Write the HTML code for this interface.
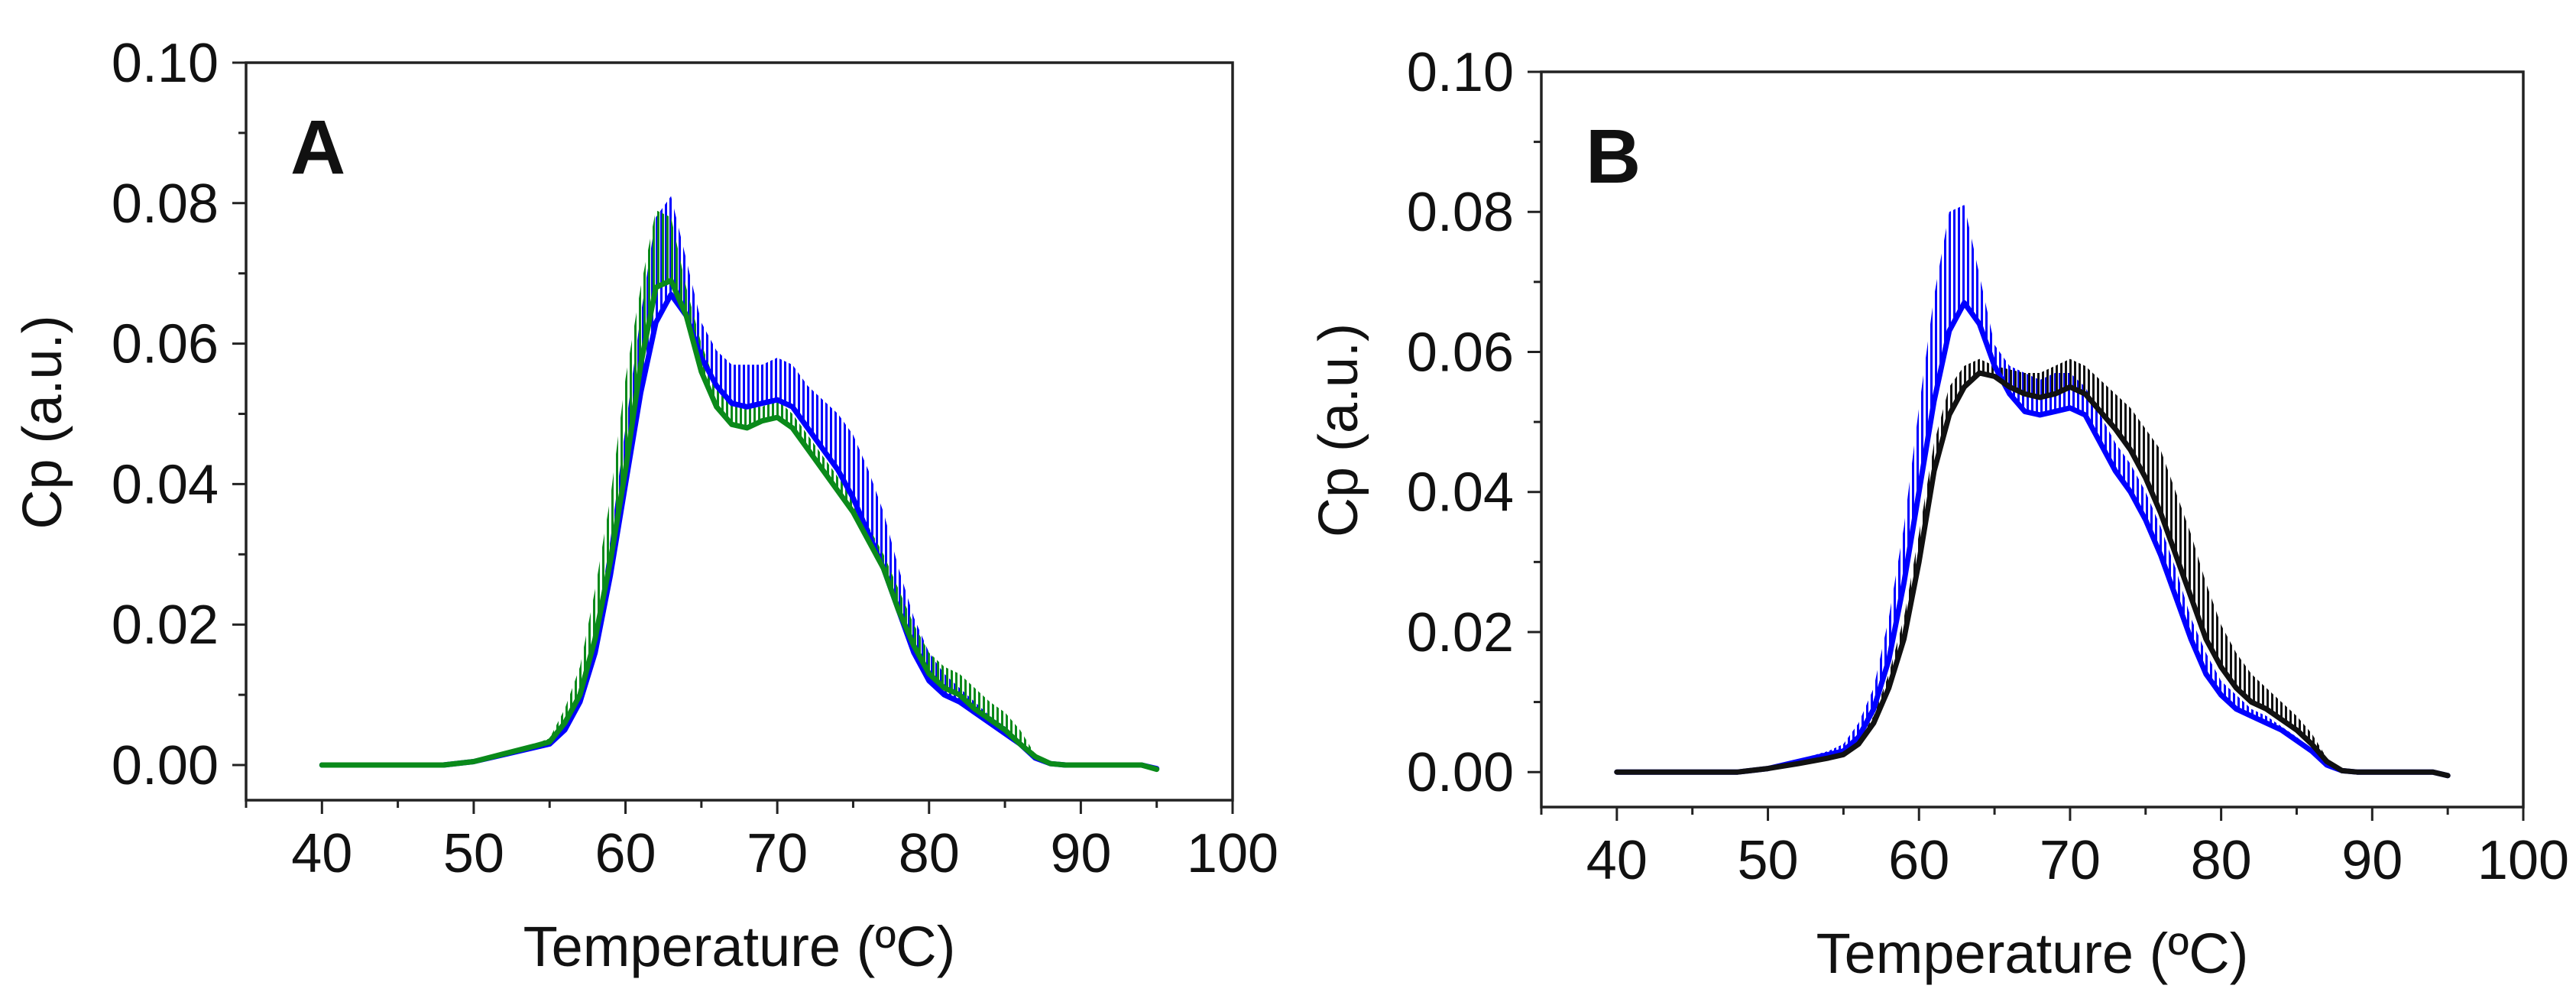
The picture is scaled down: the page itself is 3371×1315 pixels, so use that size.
<!DOCTYPE html>
<html><head><meta charset="utf-8"><style>
html,body{margin:0;padding:0;background:#fff;}
svg text{font-family:"Liberation Sans",Arial,sans-serif;fill:#111;}
</style></head><body>
<svg id="fig" width="3371" height="1310" viewBox="0 0 3371 1310" xmlns="http://www.w3.org/2000/svg">
<defs>
<pattern id="hatchBlue" patternUnits="userSpaceOnUse" width="6" height="10"><rect x="0" y="0" width="3" height="10" fill="#0000ff"/></pattern>
<pattern id="hatchGreen" patternUnits="userSpaceOnUse" width="6" height="10"><rect x="2" y="0" width="3" height="10" fill="#0a8a1a"/></pattern>
<pattern id="hatchBlack" patternUnits="userSpaceOnUse" width="6" height="10"><rect x="2" y="0" width="3" height="10" fill="#111"/></pattern>
</defs>
<g id="panelA"></g>
<g id="panelB"></g>
</svg>
<script>
// shared temperature grid (°C)
const temps = [40,42,44,46,48,50,52,54,55,56,57,58,59,60,61,62,63,64,65,66,67,68,69,70,71,72,73,74,75,76,77,78,79,80,81,82,83,84,85,86,87,88,89,90,92,94,95];
const xTicks = [40,50,60,70,80,90,100];
const yTicks = [0.00,0.02,0.04,0.06,0.08,0.10];
const yTickLabels = ["0.00","0.02","0.04","0.06","0.08","0.10"];
const xTickLabels = ["40","50","60","70","80","90","100"];

// Panel A
const aBlueMean = [0,0,0,0,0,0.0005,0.0015,0.0025,0.003,0.005,0.009,0.016,0.027,0.040,0.053,0.063,0.067,0.064,0.058,0.054,0.0515,0.051,0.0515,0.052,0.051,0.048,0.045,0.042,0.038,0.033,0.028,0.022,0.016,0.012,0.010,0.009,0.0075,0.006,0.0045,0.003,0.001,0.0002,0,0,0,0,-0.0005];
const aBlueUpper = [0,0,0,0,0,0.0006,0.0017,0.003,0.0035,0.006,0.011,0.019,0.032,0.048,0.064,0.078,0.081,0.072,0.063,0.059,0.057,0.057,0.057,0.058,0.057,0.054,0.052,0.050,0.047,0.042,0.036,0.028,0.021,0.016,0.013,0.011,0.009,0.007,0.0055,0.0035,0.0012,0.0003,0,0,0,0,-0.0005];
const aGreenMean = [0,0,0,0,0,0.0005,0.0016,0.0027,0.0033,0.006,0.010,0.018,0.029,0.042,0.057,0.068,0.069,0.064,0.056,0.051,0.0485,0.048,0.049,0.0495,0.048,0.045,0.042,0.039,0.036,0.032,0.028,0.022,0.017,0.013,0.011,0.010,0.008,0.0065,0.005,0.003,0.0012,0.0002,0,0,0,0,-0.0006];
const aGreenUpper = [0,0,0,0,0,0.0006,0.0018,0.003,0.0038,0.008,0.014,0.025,0.038,0.055,0.068,0.079,0.078,0.068,0.060,0.054,0.052,0.051,0.051,0.052,0.050,0.047,0.044,0.041,0.038,0.034,0.030,0.025,0.020,0.016,0.014,0.013,0.011,0.009,0.0075,0.005,0.0015,0.0003,0,0,0,0,-0.0006];

// Panel B
const bBlueMean = [0,0,0,0,0,0.0005,0.0015,0.0025,0.003,0.005,0.009,0.016,0.027,0.040,0.053,0.063,0.067,0.064,0.058,0.054,0.0515,0.051,0.0515,0.052,0.051,0.047,0.043,0.040,0.036,0.031,0.025,0.019,0.014,0.011,0.009,0.008,0.007,0.006,0.0045,0.003,0.001,0.0002,0,0,0,0,-0.0005];
const bBlueUpper = [0,0,0,0,0,0.0006,0.0018,0.003,0.004,0.007,0.012,0.022,0.035,0.052,0.068,0.080,0.081,0.071,0.061,0.058,0.057,0.056,0.057,0.057,0.055,0.051,0.047,0.044,0.040,0.035,0.029,0.022,0.017,0.013,0.011,0.009,0.008,0.0065,0.005,0.0033,0.0011,0.0002,0,0,0,0,-0.0005];
const bBlackMean = [0,0,0,0,0,0.0005,0.0012,0.002,0.0025,0.004,0.007,0.012,0.019,0.030,0.043,0.051,0.055,0.057,0.0565,0.055,0.054,0.0535,0.054,0.055,0.054,0.0515,0.049,0.046,0.042,0.037,0.031,0.025,0.019,0.015,0.012,0.010,0.009,0.0075,0.006,0.004,0.0015,0.0002,0,0,0,0,-0.0005];
const bBlackUpper = [0,0,0,0,0,0.0006,0.0014,0.0023,0.003,0.0045,0.008,0.014,0.022,0.034,0.047,0.055,0.058,0.059,0.058,0.0575,0.057,0.057,0.058,0.059,0.058,0.056,0.054,0.052,0.049,0.046,0.040,0.034,0.027,0.021,0.017,0.014,0.012,0.010,0.008,0.0055,0.002,0.0003,0,0,0,0,-0.0005];

const NS = "http://www.w3.org/2000/svg";
function mk(tag, attrs, parent){const e=document.createElementNS(NS,tag);for(const k in attrs)e.setAttribute(k,attrs[k]);parent.appendChild(e);return e;}

function drawPanel(g, box, letter, series){
  const xMin=35,xMax=100,yMin=-0.005,yMax=0.10;
  const X=v=>box.l+(v-xMin)/(xMax-xMin)*(box.r-box.l);
  const Y=v=>box.b-(v-yMin)/(yMax-yMin)*(box.b-box.t);
  const fr=mk('rect',{x:box.l,y:box.t,width:box.r-box.l,height:box.b-box.t,fill:'none',stroke:'#222','stroke-width':3.5},g);
  
  
  series.forEach(s=>{
    let d='';
    temps.forEach((t,i)=>{d+=(i?'L':'M')+X(t).toFixed(1)+','+Y(s.upper[i]).toFixed(1);});
    for(let i=temps.length-1;i>=0;i--){d+='L'+X(temps[i]).toFixed(1)+','+Y(s.mean[i]).toFixed(1);}
    d+='Z';
    const band=mk('path',{d:d,fill:s.hatch,stroke:'none'},g);
    
    
  });
  series.forEach(s=>{
    const pts=temps.map((t,i)=>X(t).toFixed(1)+','+Y(s.mean[i]).toFixed(1)).join(' ');
    const ln=mk('polyline',{points:pts,fill:'none',stroke:s.color,'stroke-width':7,'stroke-linejoin':'round','stroke-linecap':'round'},g);
    
    
  });
  for(let v=35;v<=100;v+=5){
    const major=v%10===0;
    const tk=mk('line',{x1:X(v),x2:X(v),y1:box.b,y2:box.b+(major?18:10),stroke:'#222','stroke-width':3},g);
    
    
  }
  xTicks.forEach((v,i)=>{
    const tx=mk('text',{x:X(v),y:box.b+94,'font-size':72,'text-anchor':'middle'},g);
    tx.textContent=xTickLabels[i];
    
    
  });
  for(let k=0;k<=10;k++){
    const v=k*0.01;const major=k%2===0;
    const tk=mk('line',{x1:box.l-(major?18:10),x2:box.l,y1:Y(v),y2:Y(v),stroke:'#222','stroke-width':3},g);
    
    
  }
  yTicks.forEach((v,i)=>{
    const ty=mk('text',{x:box.l-36,y:Y(v)+25,'font-size':72,'text-anchor':'end'},g);
    ty.textContent=yTickLabels[i];
    
    
  });
  const xt=mk('text',{x:(box.l+box.r)/2,y:box.b+217,'font-size':74,'text-anchor':'middle'},g);
  xt.textContent='Temperature (ºC)';
  
  
  const yc=(box.t+box.b)/2-12;
  const yt=mk('text',{x:box.ytx,y:yc,'font-size':72,'text-anchor':'middle',transform:'rotate(-90 '+box.ytx+' '+yc+')'},g);
  yt.textContent='Cp (a.u.)';
  
  
  const lt=mk('text',{x:box.l+58,y:box.t+145,'font-size':100,'font-weight':'bold'},g);
  lt.textContent=letter;
  
  
}

drawPanel(document.getElementById('panelA'),{l:322,r:1613,t:82,b:1047,ytx:80},'A',[
  {name:'blue-series',mean:aBlueMean,upper:aBlueUpper,color:'#0000ff',hatch:'url(#hatchBlue)'},
  {name:'green-series',mean:aGreenMean,upper:aGreenUpper,color:'#0a8a1a',hatch:'url(#hatchGreen)'}
]);
drawPanel(document.getElementById('panelB'),{l:2017,r:3302,t:94,b:1056,ytx:1776},'B',[
  {name:'blue-series',mean:bBlueMean,upper:bBlueUpper,color:'#0000ff',hatch:'url(#hatchBlue)'},
  {name:'black-series',mean:bBlackMean,upper:bBlackUpper,color:'#111',hatch:'url(#hatchBlack)'}
]);
</script>
</body></html>
